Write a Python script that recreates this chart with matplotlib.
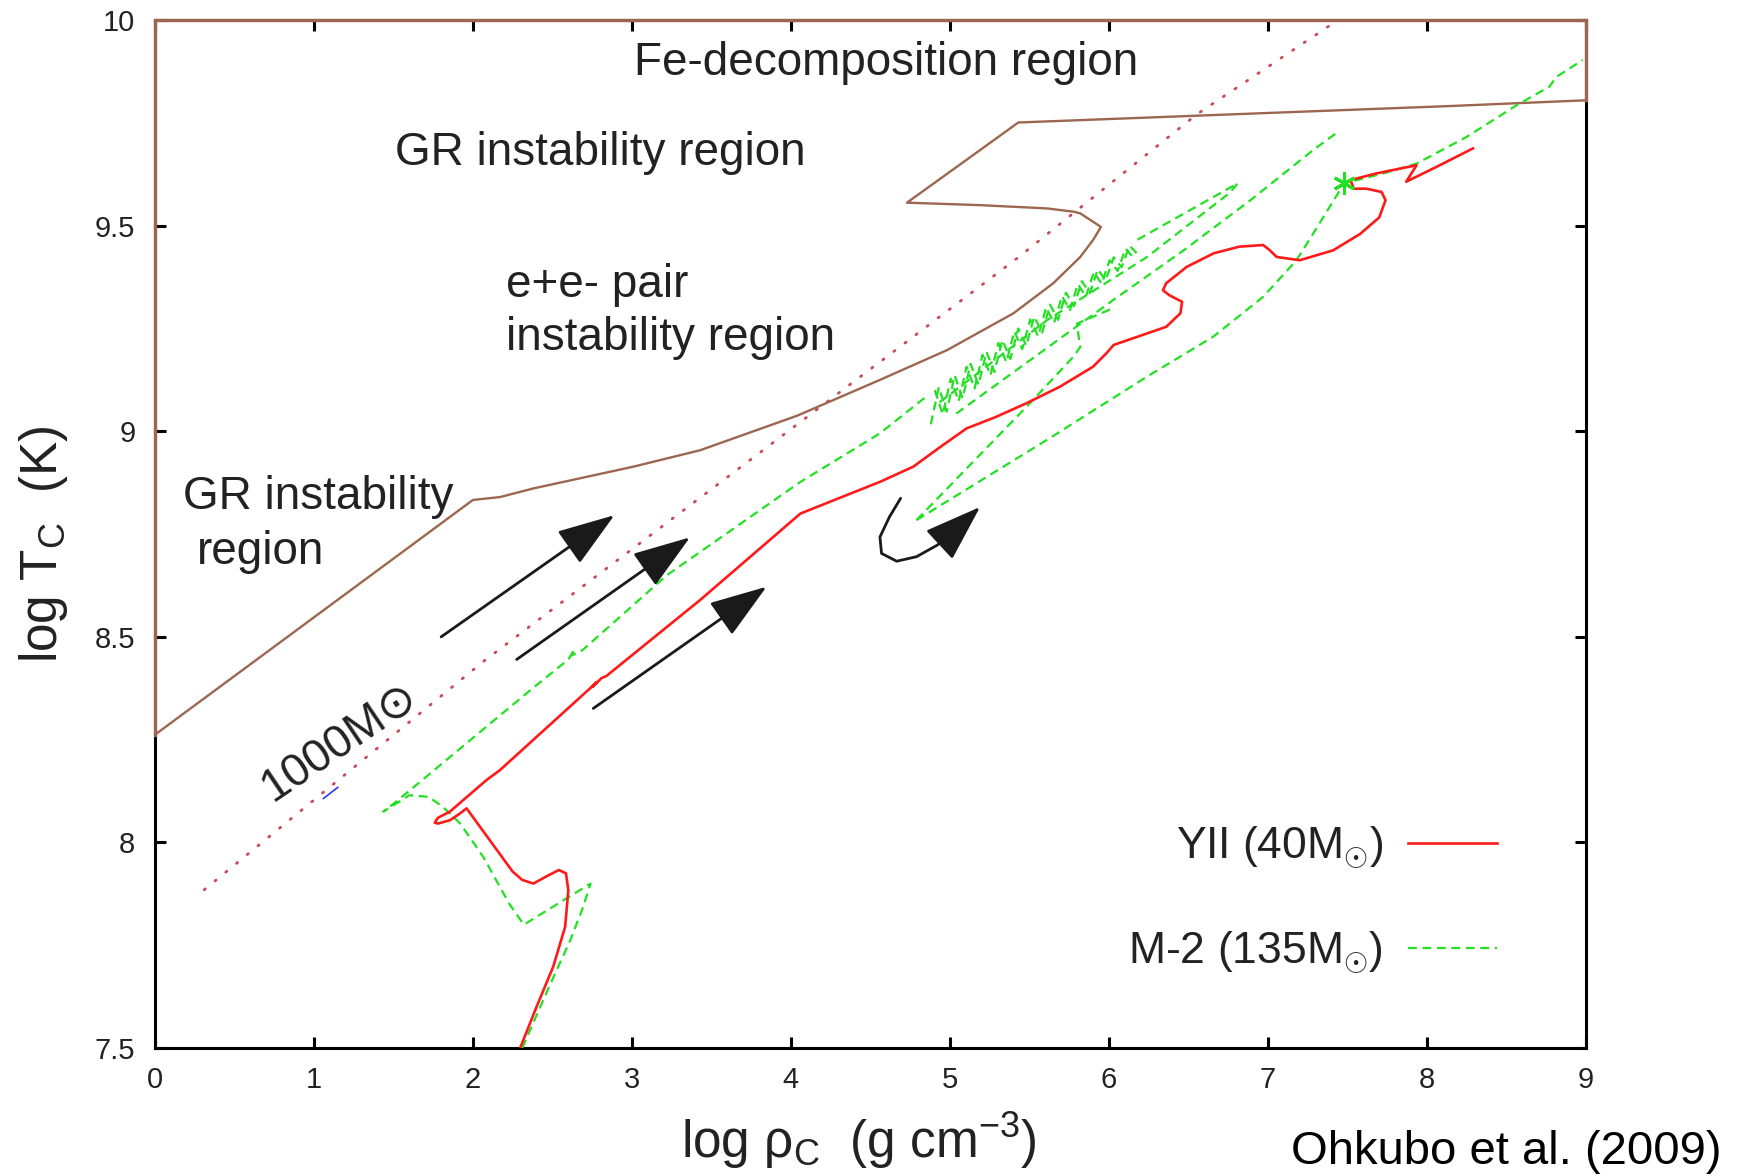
import matplotlib
matplotlib.use("Agg")
import matplotlib.pyplot as plt
from matplotlib.patches import FancyArrowPatch
from matplotlib.path import Path

# ---- values: x = log rho_c, y = log T_c ----

# brown instability boundary (GR -> pair -> notch -> Fe-decomposition)
bound_x = [0.0, 2.0, 2.17, 2.38, 3.01, 3.43, 4.04, 4.56, 4.98, 5.40, 5.65, 5.82,
           5.90, 5.95, 5.82, 5.78, 5.61, 5.19, 4.73, 5.19, 5.43, 8.145, 9.0]
bound_y = [8.262, 8.833, 8.84, 8.861, 8.914, 8.954, 9.038, 9.125, 9.197, 9.287, 9.36, 9.424,
           9.465, 9.497, 9.53, 9.534, 9.542, 9.55, 9.556, 9.684, 9.751, 9.791, 9.805]
# part of the boundary running along the frame
edge_x = [9.0, 9.0, 0.0, 0.0]
edge_y = [9.805, 10.0, 10.0, 8.262]

# 1000 Msun track (dotted) and its tiny blue piece
m1000_x = [0.31, 2.065, 5.42, 6.55, 7.44]
m1000_y = [7.885, 8.44, 9.42, 9.77, 10.0]
m1000_blue_x = [1.06, 1.15]
m1000_blue_y = [8.107, 8.134]

# YII (40 Msun), solid red
yii_x = [2.30, 2.40, 2.505, 2.58, 2.60, 2.585, 2.54, 2.46, 2.38, 2.31, 2.25, 1.96,
         1.92, 1.855, 1.78, 1.76, 1.78, 1.855, 2.086, 2.17, 2.78, 2.75, 2.81, 2.84,
         3.43, 4.06, 4.56, 4.77, 4.94, 5.105, 5.29, 5.48, 5.69, 5.90, 5.985, 6.03,
         6.15, 6.36, 6.45, 6.46, 6.38, 6.34, 6.36, 6.49, 6.66, 6.82, 6.97, 7.01,
         7.055, 7.20, 7.41, 7.58, 7.70, 7.74, 7.715, 7.62, 7.54, 7.52, 7.68, 7.935,
         7.87, 8.06, 8.29]
yii_y = [7.503, 7.60, 7.698, 7.795, 7.884, 7.925, 7.933, 7.917, 7.90, 7.909, 7.929, 8.083,
         8.071, 8.054, 8.046, 8.048, 8.06, 8.075, 8.152, 8.176, 8.39, 8.378, 8.40, 8.405,
         8.59, 8.80, 8.877, 8.914, 8.962, 9.007, 9.035, 9.068, 9.108, 9.157, 9.19, 9.21,
         9.226, 9.254, 9.287, 9.315, 9.331, 9.343, 9.36, 9.40, 9.433, 9.449, 9.453, 9.441,
         9.424, 9.416, 9.44, 9.48, 9.52, 9.562, 9.582, 9.59, 9.59, 9.611, 9.627, 9.647,
         9.607, 9.643, 9.688]

# M-2 (135 Msun), dashed green, drawn in pieces
m2_start_x = [2.31, 2.48, 2.61, 2.69, 2.74, 2.32, 2.23, 2.065, 1.92, 1.81, 1.72, 1.60,
              1.54, 1.436, 1.52, 2.36, 2.60, 2.64, 2.62, 2.69, 3.22, 4.06, 4.56, 4.85]
m2_start_y = [7.50, 7.65, 7.76, 7.84, 7.90, 7.80, 7.85, 7.965, 8.046, 8.087, 8.111, 8.115,
              8.10, 8.075, 8.10, 8.37, 8.445, 8.47, 8.455, 8.468, 8.65, 8.877, 8.995, 9.084]
# pulsation band: two interleaved zigzags
m2_pulse_x = [4.88, 4.93, 4.98, 5.03, 5.08, 5.13, 5.18, 5.23, 5.28, 5.33, 5.38, 5.43, 5.48,
              5.53, 5.58, 5.63, 5.68, 5.73, 5.78, 5.83, 5.88, 5.93, 5.98, 6.03, 6.08, 6.13, 6.18]
m2_pulse_y = [9.017, 9.107, 9.048, 9.136, 9.080, 9.164, 9.113, 9.193, 9.144, 9.222, 9.176,
              9.250, 9.208, 9.279, 9.240, 9.308, 9.271, 9.337, 9.304, 9.365, 9.336, 9.394,
              9.367, 9.423, 9.399, 9.451, 9.431]
m2_pulse2_x = [4.905, 4.955, 5.005, 5.055, 5.105, 5.155, 5.205, 5.255, 5.305, 5.355, 5.405,
               5.455, 5.505, 5.555, 5.605, 5.655, 5.705, 5.755, 5.805, 5.855, 5.905, 5.955,
               6.005, 6.055, 6.105, 6.155]
m2_pulse2_y = [9.100, 9.041, 9.128, 9.073, 9.157, 9.104, 9.186, 9.136, 9.215, 9.168, 9.243,
               9.200, 9.272, 9.231, 9.301, 9.263, 9.329, 9.295, 9.358, 9.327, 9.387, 9.359,
               9.416, 9.390, 9.444, 9.422]
m2_loop_x = [6.18, 6.81, 6.76, 6.24, 5.61, 4.90]
m2_loop_y = [9.466, 9.603, 9.58, 9.424, 9.27, 9.06]
m2_ramp_x = [5.04, 6.03, 6.47, 6.89, 7.285, 7.44]
m2_ramp_y = [9.043, 9.32, 9.44, 9.562, 9.684, 9.728]
m2_bounce_x = [4.79, 5.503, 5.776, 5.82, 5.81, 5.80, 6.03]
m2_bounce_y = [8.784, 9.068, 9.181, 9.205, 9.23, 9.262, 9.30]
m2_final_x = [4.79, 5.61, 6.24, 6.656, 6.97, 7.18, 7.285, 7.48, 7.725, 7.935, 8.25, 8.565,
              8.77, 8.815, 8.98]
m2_final_y = [8.784, 8.979, 9.133, 9.23, 9.327, 9.416, 9.481, 9.603, 9.627, 9.651, 9.716, 9.793,
              9.838, 9.862, 9.903]
star_x = [7.48]
star_y = [9.603]

# black arrows
arrow_tail_x = [1.80, 2.275, 2.757]
arrow_tail_y = [8.50, 8.445, 8.326]
arrow_tip_x = [2.89, 3.365, 3.847]
arrow_tip_y = [8.796, 8.742, 8.622]
curl_x = [4.69, 4.62, 4.56, 4.57, 4.665, 4.79, 4.92, 5.0, 5.19]
curl_y = [8.837, 8.792, 8.743, 8.703, 8.684, 8.695, 8.723, 8.748, 8.816]

x_ticks = [0, 1, 2, 3, 4, 5, 6, 7, 8, 9]
y_ticks = [7.5, 8, 8.5, 9, 9.5, 10]
y_tick_labels = ["7.5", "8", "8.5", "9", "9.5", "10"]

TXT = "#222222"
BROWN = "#9c6650"
RED = "#ff1a1a"
GREEN = "#22e022"
DOTRED = "#cc4a55"
ARROW = "#1a1a1a"

plt.rcParams["font.family"] = ["Liberation Sans", "DejaVu Sans"]
plt.rcParams["mathtext.fontset"] = "custom"
plt.rcParams["mathtext.rm"] = "Liberation Sans"
plt.rcParams["mathtext.it"] = "Liberation Sans:italic"
plt.rcParams["mathtext.bf"] = "Liberation Sans:bold"

fig = plt.figure(figsize=(17.37, 11.76), dpi=100)
ax = fig.add_axes([0.0892, 0.1088, 0.8238, 0.8741])
ax.set_xlim(0, 9)
ax.set_ylim(7.5, 10)

# boundary
ax.plot(bound_x, bound_y, color=BROWN, lw=1.7, zorder=3)
ax.plot(edge_x, edge_y, color=BROWN, lw=2.4, zorder=4, clip_on=False)

# 1000 Msun
ax.plot(m1000_x, m1000_y, color=DOTRED, lw=2.0, dashes=(0.5, 4.5),
        dash_capstyle="round", zorder=2)
ax.plot(m1000_blue_x, m1000_blue_y, color="#3333ff", lw=1.2, zorder=2)

# M-2 track
dash = dict(color=GREEN, lw=1.6, dashes=(4, 2.5), zorder=3)
green_line, = ax.plot(m2_start_x, m2_start_y, **dash)
ax.plot(m2_pulse_x, m2_pulse_y, **dash)
ax.plot(m2_pulse2_x, m2_pulse2_y, **dash)
ax.plot(m2_loop_x, m2_loop_y, **dash)
ax.plot(m2_ramp_x, m2_ramp_y, **dash)
ax.plot(m2_bounce_x, m2_bounce_y, **dash)
ax.plot(m2_final_x, m2_final_y, **dash)
ax.plot(star_x, star_y, ls="none", marker=(6, 2, 0), ms=16, mew=2.2,
        color=GREEN, zorder=4)

# YII track
red_line, = ax.plot(yii_x, yii_y, color=RED, lw=1.9, zorder=3)

# arrows
astyle = "-|>,head_length=1.8,head_width=0.62"
for x0, y0, x1, y1 in zip(arrow_tail_x, arrow_tail_y, arrow_tip_x, arrow_tip_y):
    ax.add_patch(FancyArrowPatch((x0, y0), (x1, y1), arrowstyle=astyle,
                                 mutation_scale=20, color=ARROW, lw=2.0,
                                 shrinkA=0, shrinkB=0, zorder=5))
ax.add_patch(FancyArrowPatch(path=Path(list(zip(curl_x, curl_y))), arrowstyle=astyle,
                             mutation_scale=20, color=ARROW, lw=2.0, zorder=5))

# region labels
lab = dict(fontsize=33, color=TXT, va="center", ha="left")
ax.text(3.01, 9.895, "Fe-decomposition region", **lab)
ax.text(1.51, 9.677, "GR instability region", **lab)
ax.text(2.21, 9.356, "e+e- pair", **lab)
ax.text(2.21, 9.227, "instability region", **lab)
ax.text(0.174, 8.84, "GR instability", **lab)
ax.text(0.265, 8.707, "region", **lab)
ax.text(0.74, 8.10, "1000M\u2299", fontsize=33, color=TXT, rotation=34,
        rotation_mode="anchor", ha="left", va="baseline")

# legend
ax.legend([red_line, green_line],
          ["YII (40M$_{\\odot}$)", "M-2 (135M$_{\\odot}$)"],
          loc="lower right", bbox_to_anchor=(0.9377, 0.070), markerfirst=False,
          frameon=False, fontsize=32, labelcolor=TXT, handlelength=2.0,
          handletextpad=0.55, labelspacing=1.32, borderpad=0, borderaxespad=0)

# axes styling
ax.set_xticks(x_ticks)
ax.set_yticks(y_ticks)
ax.set_yticklabels(y_tick_labels)
ax.tick_params(direction="in", length=8, width=2.2, top=True, right=True,
               labelsize=21, labelcolor=TXT, pad=13)
ax.tick_params(axis="y", pad=14)
for s in ax.spines.values():
    s.set_linewidth(2.2)

ax.set_xlabel("log \u03c1$_\\mathrm{C}$  (g cm$^{-3}$)", fontsize=37, color=TXT, va="center")
ax.xaxis.set_label_coords(0.492, -0.0905)
ax.set_ylabel("log T$_\\mathrm{C}$  (K)", fontsize=37, color=TXT, va="center")
ax.yaxis.set_label_coords(-0.078, 0.49)

fig.text(0.991, 0.0204, "Ohkubo et al. (2009)", ha="right", va="center",
         fontsize=34, color="black")

fig.savefig("out.png", dpi=100)
